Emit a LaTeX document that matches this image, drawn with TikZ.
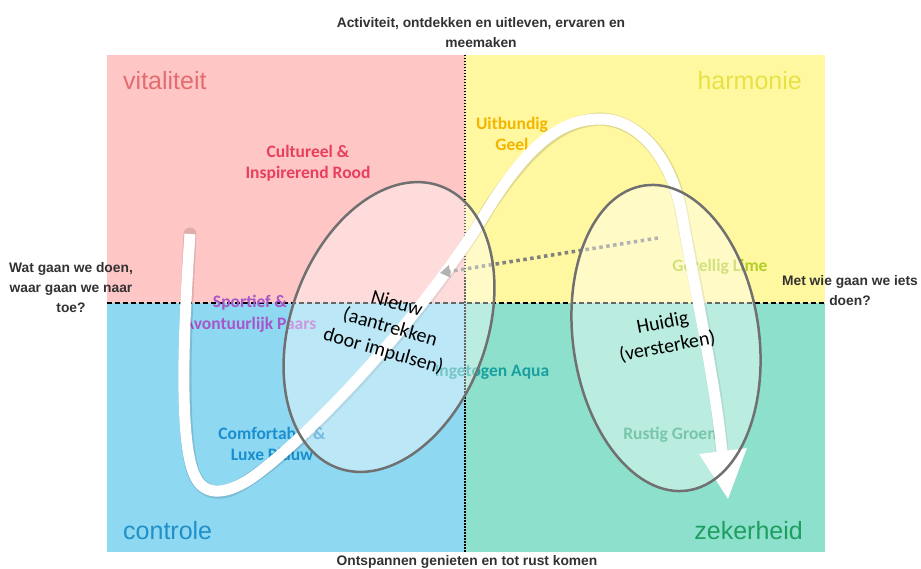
\documentclass[tikz,border=0pt]{standalone}
\usepackage{fontspec}
\setmainfont{Liberation Sans}
\newfontfamily\carlito{Carlito}
\usetikzlibrary{shapes.geometric,arrows.meta}

\definecolor{qpink}{RGB}{255,198,198}
\definecolor{qyellow}{RGB}{255,248,160}
\definecolor{qblue}{RGB}{142,216,242}
\definecolor{qteal}{RGB}{141,224,204}
\definecolor{tvital}{RGB}{226,108,112}
\definecolor{tharm}{RGB}{230,226,70}
\definecolor{tcontr}{RGB}{32,144,200}
\definecolor{tzeker}{RGB}{30,158,96}
\definecolor{trood}{RGB}{232,64,92}
\definecolor{tgeel}{RGB}{245,180,0}
\definecolor{tpaars}{RGB}{168,85,200}
\definecolor{taqua}{RGB}{26,160,160}
\definecolor{tlime}{RGB}{180,205,40}
\definecolor{tblauw}{RGB}{26,143,208}
\definecolor{tgroen}{RGB}{30,160,112}
\definecolor{axislabel}{RGB}{50,50,50}
\definecolor{ringgray}{RGB}{112,112,112}
\definecolor{dotgray}{RGB}{128,128,128}

\tikzset{
  quadname/.style={font=\fontsize{25}{29}\selectfont, inner sep=0pt},
  tone/.style={font=\carlito\bfseries\fontsize{17.5}{21.5}\selectfont, align=center, inner sep=0pt},
  axistext/.style={font=\bfseries\fontsize{13.8}{20}\selectfont, text=axislabel, align=center, inner sep=0pt},
  ring/.style={ellipse, draw=ringgray, line width=2.5pt, fill=white, fill opacity=0.4, draw opacity=1, inner sep=0pt},
  ringtext/.style={font=\carlito\fontsize{20}{24.5}\selectfont, align=center, inner sep=0pt, text=black},
  pathshadow/.style={draw=black, draw opacity=0.12, line width=13pt, line cap=round},
  whitepath/.style={draw=white, line width=11pt},
  dotarrow/.style={draw=dotgray, line width=3.5pt, dash pattern=on 3.5pt off 3.5pt,
    -{Triangle[length=10pt,width=12pt]}}
}

\begin{document}
\begin{tikzpicture}[x=1pt,y=-1pt]
\useasboundingbox (0,0) rectangle (921,569);
\fill[white] (0,0) rectangle (921,569);

% four quadrants
\fill[qpink]   (107,55)  rectangle (465,303);
\fill[qyellow] (465,55)  rectangle (825,303);
\fill[qblue]   (107,303) rectangle (465,552);
\fill[qteal]   (465,303) rectangle (825,552);

% axes
\draw[black, line width=1.6pt, dash pattern=on 5pt off 3pt] (107,303) -- (825,303);
\draw[black, line width=1.8pt, dash pattern=on 1.5pt off 1.5pt] (465,55) -- (465,553);

% axis captions
\node[axistext] (top) at (481,33) {Activiteit, ontdekken en uitleven, ervaren en\\meemaken};
\node[axistext] (bottom) at (467,562) {Ontspannen genieten en tot rust komen};
\node[axistext] (left) at (71,288) {Wat gaan we doen,\\waar gaan we naar\\toe?};
\node[axistext] (right) at (850,291) {Met wie gaan we iets\\doen?};

% quadrant names
\node[quadname, text=tvital, anchor=base west] (vit) at (123,90) {vitaliteit};
\node[quadname, text=tharm, anchor=base east] (harm) at (802,90) {harmonie};
\node[quadname, text=tcontr, anchor=base west] (contr) at (123,539) {controle};
\node[quadname, text=tzeker, anchor=base east] (zeker) at (803,539) {zekerheid};

% colour tones
\node[tone, text=trood] (rood) at (308,163) {Cultureel \&\\Inspirerend Rood};
\node[tone, text=tgeel] (geel) at (512,134) {Uitbundig\\Geel};
\node[tone, text=tpaars] (paars) at (250,314) {Sportief \&\\Avontuurlijk Paars};
\node[tone, text=taqua, anchor=base] (aqua) at (492,376) {Ingetogen Aqua};
\node[tone, text=tlime, anchor=base] (lime) at (720,272) {Gezellig Lime};
\node[tone, text=tblauw] (blauw) at (272,444) {Comfortabel \&\\Luxe Blauw};
\node[tone, text=tgroen, anchor=base] (groen) at (670,439) {Rustig Groen};

% white journey arrow
\coordinate (s0) at (190,234);
\coordinate (s1) at (195,476);
\coordinate (s2) at (250,479);
\coordinate (s3) at (490,206);
\coordinate (s4) at (600,119);
\coordinate (s5) at (682,215);
\coordinate (s6) at (722,452);
\coordinate (h1) at (699,454);
\coordinate (h2) at (747,448);
\coordinate (h3) at (728,499);
\begin{scope}[shift={(1.5,1.5)}]
  \draw[pathshadow] (s0) .. controls (184,320) and (178,442) .. (s1)
    .. controls (203,494) and (222,497) .. (s2)
    .. controls (300,445) and (418,325) .. (s3)
    .. controls (528,146) and (560,119) .. (s4)
    .. controls (640,119) and (672,160) .. (s5)
    .. controls (695,290) and (715,380) .. (s6);
  \fill[black, opacity=0.12] (h1) -- (h2) -- (h3) -- cycle;
\end{scope}
\draw[whitepath] (s0) .. controls (184,320) and (178,442) .. (s1)
  .. controls (203,494) and (222,497) .. (s2)
  .. controls (300,445) and (418,325) .. (s3)
  .. controls (528,146) and (560,119) .. (s4)
  .. controls (640,119) and (672,160) .. (s5)
  .. controls (695,290) and (715,380) .. (s6);
\fill[white] (h1) -- (h2) -- (h3) -- cycle;

% dotted arrow from current to new
\coordinate (d0) at (658,238);
\coordinate (d1) at (440,273);
\draw[dotarrow] (d0) -- (d1);

% the two ellipses
\node[ring, minimum width=196pt, minimum height=300pt, rotate=-20] (nieuw) at (389,327) {};
\node[ring, minimum width=186pt, minimum height=308pt, rotate=8] (huidig) at (666,338) {};

\node[ringtext, rotate=-16] (nieuwtxt) at (390,328) {Nieuw\\(aantrekken\\door impulsen)};
\node[ringtext, rotate=11] (huidigtxt) at (665,335) {Huidig\\(versterken)};
\end{tikzpicture}
\end{document}
